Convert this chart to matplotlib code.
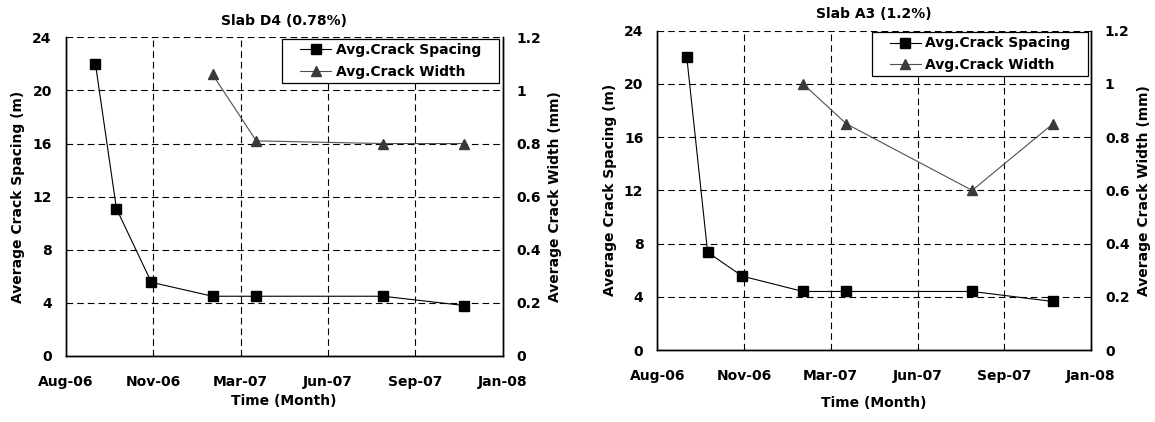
import matplotlib
matplotlib.use('Agg')
import matplotlib.pyplot as plt
import matplotlib.dates as mdates
from matplotlib.legend_handler import HandlerLine2D
from datetime import datetime, timedelta

plt.rcParams['font.family'] = ['DejaVu Sans']
plt.rcParams['font.weight'] = 'bold'
plt.rcParams['axes.labelweight'] = 'bold'
plt.rcParams['axes.titleweight'] = 'bold'
plt.rcParams['font.size'] = 10

# survey dates (same for both slabs), crack width only measured from the 4th survey on
dates = ['2006-09-24', '2006-10-18', '2006-11-27', '2007-02-05',
         '2007-03-27', '2007-08-19', '2007-11-20']
width_dates = dates[3:]

d4_spacing = [22.0, 11.1, 5.55, 4.5, 4.5, 4.5, 3.8]
d4_width = [1.06, 0.81, 0.80, 0.80]
a3_spacing = [22.0, 7.35, 5.55, 4.4, 4.4, 4.4, 3.65]
a3_width = [1.0, 0.85, 0.6, 0.85]

titles = ['Slab D4 (0.78%)', 'Slab A3 (1.2%)']
spacing_ticks = [0, 4, 8, 12, 16, 20, 24]
width_ticks = [0, 0.2, 0.4, 0.6, 0.8, 1.0, 1.2]
width_ticklabels = ['0', '0.2', '0.4', '0.6', '0.8', '1', '1.2']
x_start = '2006-08-21'
x_step_days = 100
n_steps = 5

to_dt = lambda s: datetime.strptime(s, '%Y-%m-%d')

fig = plt.figure(figsize=(11.55, 4.22), dpi=100)
rects = [[0.0569, 0.1564, 0.3784, 0.7552], [0.5691, 0.1706, 0.3755, 0.7566]]
ylab_left = [-0.093, -0.093]
ylab_right = [1.1025, 1.107]
xlab_y = [-0.119, -0.1425]
leg_box = [(0.4943, 0.9947, 0.4979, 0.0), (0.4944, 0.995, 0.498, 0.0)]

series = [(d4_spacing, d4_width), (a3_spacing, a3_width)]

for i in range(2):
    ax = fig.add_axes(rects[i])
    ax2 = ax.twinx()
    sp, wd = series[i]

    l1, = ax.plot([to_dt(d) for d in dates], sp, color='black', lw=0.8,
                  marker='s', markersize=6.7, markerfacecolor='black',
                  markeredgecolor='black', label='Avg.Crack Spacing')
    l2, = ax2.plot([to_dt(d) for d in width_dates], wd, color='#505050', lw=0.8,
                   marker='^', markersize=7.5, markerfacecolor='#3a3a3a',
                   markeredgecolor='#3a3a3a', label='Avg.Crack Width')

    x0 = to_dt(x_start)
    xt = [x0 + timedelta(days=x_step_days * k) for k in range(n_steps + 1)]
    ax.set_xlim(xt[0], xt[-1])
    ax.set_xticks(xt)
    ax.xaxis.set_major_formatter(mdates.DateFormatter('%b-%y'))

    ax.set_ylim(0, 24)
    ax.set_yticks(spacing_ticks)
    ax2.set_ylim(0, 1.2)
    ax2.set_yticks(width_ticks)
    ax2.set_yticklabels(width_ticklabels)

    ax.grid(True, color='black', lw=0.8, linestyle=(0, (6, 3.6)))
    ax.tick_params(axis='x', length=0, pad=14)
    ax.tick_params(axis='y', length=0, pad=10)
    ax2.tick_params(axis='y', length=0, pad=10)

    for a in (ax, ax2):
        a.spines['top'].set_visible(False)
        for s in ('left', 'bottom', 'right'):
            a.spines[s].set_linewidth(1.0)

    ax.set_title(titles[i], fontsize=10, pad=9)
    ax.set_xlabel('Time (Month)')
    ax.set_ylabel('Average Crack Spacing (m)')
    ax2.set_ylabel('Average Crack Width (mm)', rotation=90)
    ax.xaxis.set_label_coords(0.5, xlab_y[i])
    ax.yaxis.set_label_coords(ylab_left[i], 0.5)
    ax2.yaxis.set_label_coords(ylab_right[i], 0.5)

    leg = ax2.legend(handles=[l1, l2], loc='upper left', mode='expand',
                     bbox_to_anchor=leg_box[i], borderaxespad=0,
                     fancybox=False, framealpha=1, edgecolor='black',
                     handlelength=3.26, handletextpad=0.31, labelspacing=0.55,
                     borderpad=0.3,
                     handler_map={l1: HandlerLine2D(xpad=1.0),
                                  l2: HandlerLine2D(xpad=1.0)})
    leg.get_frame().set_linewidth(0.9)

fig.savefig('out.png', dpi=100)
